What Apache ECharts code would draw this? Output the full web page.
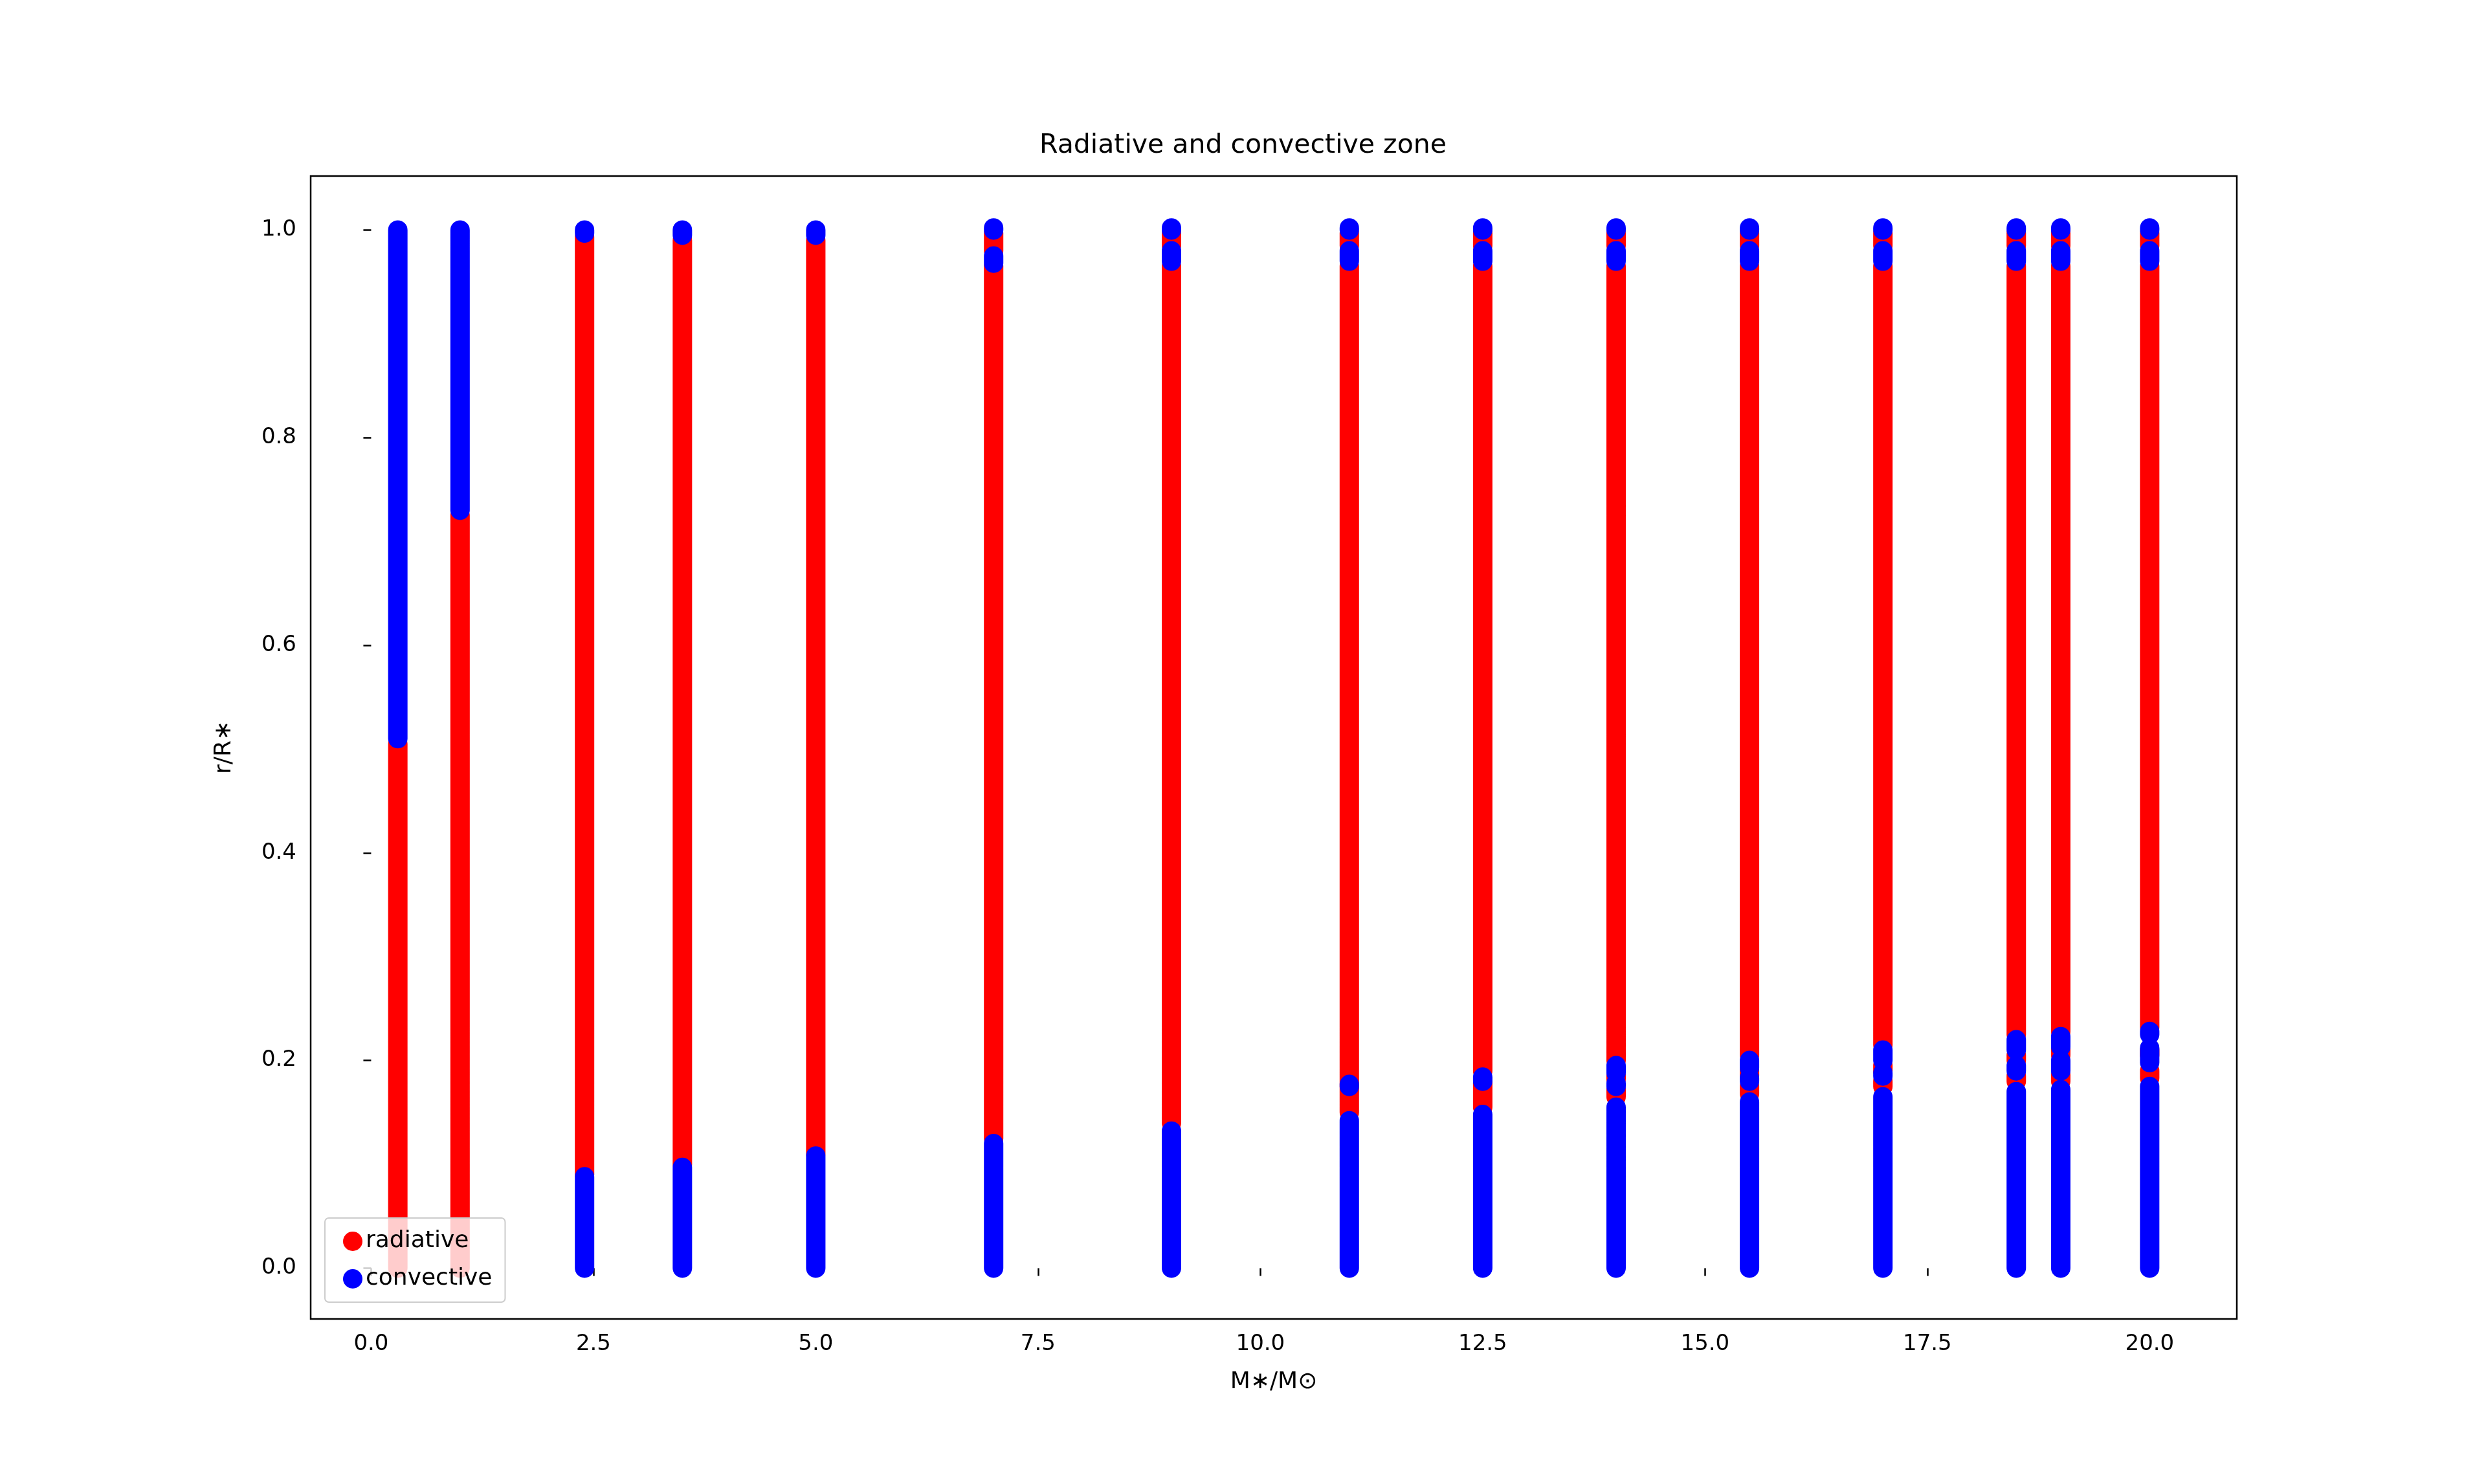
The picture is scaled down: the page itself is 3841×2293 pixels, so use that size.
<!DOCTYPE html>
<html><head><meta charset="utf-8">
<script src="https://cdn.jsdelivr.net/npm/echarts@6/dist/echarts.min.js"></script>
<style>html,body{margin:0;padding:0;background:#fff}#c{width:3841px;height:2293px}</style>
</head><body><div id="c"></div>
<script>
const masses = [0.3, 1.0, 2.4, 3.5, 5.0, 7.0, 9.0, 11.0, 12.5, 14.0, 15.5, 17.0, 18.5, 19.0, 20.0];
const xTicks = [0, 2.5, 5, 7.5, 10, 12.5, 15, 17.5, 20];
const yTicks = [0, 0.2, 0.4, 0.6, 0.8, 1.0];
// radiative r/R* ranges per mass
const radSegments = [
  [[0.0, 0.505]],
  [[0.0, 0.725]],
  [[0.09, 0.993]],
  [[0.1, 0.99]],
  [[0.11, 0.99]],
  [[0.125, 0.965], [0.98, 0.997]],
  [[0.14, 0.965], [0.985, 0.997]],
  [[0.15, 0.965], [0.985, 0.997]],
  [[0.155, 0.178], [0.19, 0.965], [0.985, 0.997]],
  [[0.165, 0.172], [0.182, 0.185], [0.2, 0.965], [0.985, 0.997]],
  [[0.168, 0.175], [0.185, 0.19], [0.205, 0.965], [0.985, 0.997]],
  [[0.175, 0.18], [0.19, 0.195], [0.215, 0.965], [0.985, 0.997]],
  [[0.18, 0.185], [0.2, 0.205], [0.225, 0.965], [0.985, 0.997]],
  [[0.18, 0.186], [0.205, 0.21], [0.228, 0.965], [0.985, 0.997]],
  [[0.183, 0.19], [0.205, 0.21], [0.232, 0.965], [0.985, 0.997]]
];
// convective r/R* ranges per mass
const convSegments = [
  [[0.51, 1.0]],
  [[0.73, 1.0]],
  [[0.0, 0.088], [0.997, 1.0]],
  [[0.0, 0.097], [0.995, 1.0]],
  [[0.0, 0.108], [0.995, 1.0]],
  [[0.0, 0.12], [0.968, 0.975], [1.0, 1.0]],
  [[0.0, 0.132], [0.97, 0.98], [1.0, 1.0]],
  [[0.0, 0.142], [0.175, 0.176], [0.97, 0.98], [1.0, 1.0]],
  [[0.0, 0.148], [0.18, 0.184], [0.97, 0.98], [1.0, 1.0]],
  [[0.0, 0.155], [0.175, 0.178], [0.188, 0.195], [0.97, 0.98], [1.0, 1.0]],
  [[0.0, 0.16], [0.18, 0.183], [0.193, 0.2], [0.97, 0.98], [1.0, 1.0]],
  [[0.0, 0.165], [0.185, 0.188], [0.2, 0.21], [0.97, 0.98], [1.0, 1.0]],
  [[0.0, 0.17], [0.19, 0.195], [0.21, 0.22], [0.97, 0.98], [1.0, 1.0]],
  [[0.0, 0.172], [0.19, 0.2], [0.213, 0.223], [0.97, 0.98], [1.0, 1.0]],
  [[0.0, 0.175], [0.198, 0.212], [0.225, 0.228], [0.97, 0.98], [1.0, 1.0]]
];
function build(segs){
  const out = [];
  masses.forEach((m, i) => {
    segs[i].forEach(([a, b]) => {
      if (b - a < 0.002) b = a + 0.002;
      out.push([m, a], [m, b], [m, '-']);
    });
  });
  return out;
}
const lw = 30;
const chart = echarts.init(document.getElementById('c'));
const font = 'DejaVu Sans';
chart.setOption({
  animation: false,
  title: {text: 'Radiative and convective zone', left: 'center', top: 200,
    textStyle: {fontFamily: font, fontSize: 41, fontWeight: 'normal', color: '#000'}},
  grid: {left: 480, right: 385, top: 272, bottom: 255, show: true, borderColor: '#000', borderWidth: 2.5},
  legend: {left: 502, top: 1882, orient: 'vertical', icon: 'circle', itemWidth: 30, itemHeight: 30, itemGap: 22,
    padding: [18, 20, 18, 28], backgroundColor: 'rgba(255,255,255,0.8)', borderColor: '#ccc', borderWidth: 2, borderRadius: 6,
    textStyle: {fontFamily: font, fontSize: 36, color: '#000'},
    data: ['radiative', 'convective']},
  xAxis: {type: 'value', min: -0.68, max: 20.98, name: 'M∗/M⊙', nameLocation: 'middle', nameGap: 80,
    nameTextStyle: {fontFamily: font, fontSize: 36, color: '#000'},
    splitLine: {show: false},
    axisLine: {show: false},
    axisTick: {show: true, length: 12, lineStyle: {color: '#000', width: 2.5}, customValues: xTicks},
    axisLabel: {fontFamily: font, fontSize: 34, color: '#000', margin: 22, customValues: xTicks, formatter: v => v.toFixed(1)}},
  yAxis: {type: 'value', min: -0.049, max: 1.052, name: 'r/R∗', nameLocation: 'middle', nameGap: 115,
    nameTextStyle: {fontFamily: font, fontSize: 36, color: '#000'},
    splitLine: {show: false},
    axisLine: {show: false},
    axisTick: {show: true, length: 12, lineStyle: {color: '#000', width: 2.5}, customValues: yTicks},
    axisLabel: {fontFamily: font, fontSize: 34, color: '#000', margin: 22, customValues: yTicks, formatter: v => v.toFixed(1)}},
  series: [
    {name: 'radiative', type: 'line', data: build(radSegments), showSymbol: false, symbol: 'circle',
      itemStyle: {color: '#ff0000'}, lineStyle: {color: '#ff0000', width: lw, cap: 'round', join: 'round'}, z: 2},
    {name: 'convective', type: 'line', data: build(convSegments), showSymbol: false, symbol: 'circle',
      itemStyle: {color: '#0000ff'}, lineStyle: {color: '#0000ff', width: lw, cap: 'round', join: 'round'}, z: 3}
  ]
});
</script></body></html>
